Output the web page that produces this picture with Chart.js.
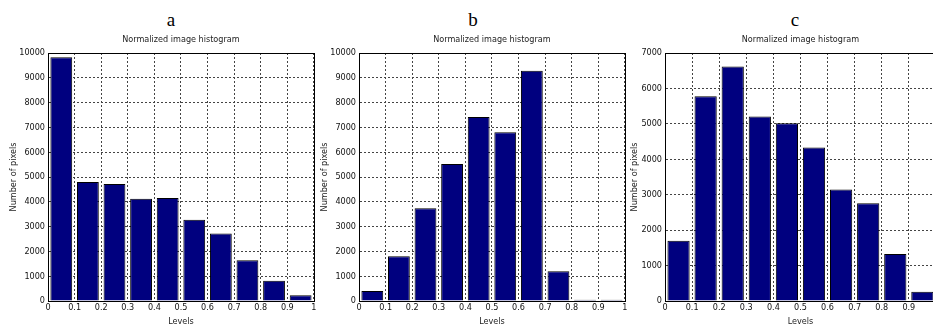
<!DOCTYPE html>
<html>
<head>
<meta charset="utf-8">
<script src="https://cdn.jsdelivr.net/npm/chart.js@4/dist/chart.umd.min.js"></script>
<style>
  html, body { margin: 0; padding: 0; background: #fff; overflow: hidden; }
  body { width: 933px; height: 327px; position: relative; }
  .panel { position: absolute; top: 0; height: 327px; }
  .letter {
    position: absolute; top: 10px; width: 40px; text-align: center;
    font: 19px/20px 'Liberation Serif', 'Times New Roman', serif; color: #000;
  }
</style>
</head>
<body>
<div class="letter" style="left:151px">a</div>
<div class="letter" style="left:453px">b</div>
<div class="letter" style="left:775px">c</div>
<div class="panel" style="left:0;width:318px"><canvas id="chartA"></canvas></div>
<div class="panel" style="left:318px;width:311px"><canvas id="chartB"></canvas></div>
<div class="panel" style="left:629px;width:311px"><canvas id="chartC"></canvas></div>
<script>
// bin centres of the normalized levels
const levels = [0.05, 0.15, 0.25, 0.35, 0.45, 0.55, 0.65, 0.75, 0.85, 0.95];
const pixelsA = [9830, 4800, 4720, 4120, 4150, 3280, 2720, 1640, 820, 230];
const pixelsB = [400, 1800, 3740, 5520, 7420, 6800, 9280, 1200, 50, 50];
const pixelsC = [1700, 5780, 6620, 5210, 5020, 4330, 3150, 2760, 1330, 260];
const yMaxA = 10000, yMaxB = 10000, yMaxC = 7000;

const narrow = "'Liberation Sans Narrow', 'DejaVu Sans Condensed', 'Arial Narrow', Arial, sans-serif";

// matlab style closed box around the axes
const boxPlugin = {
  id: 'box',
  afterDatasetsDraw(chart) {
    const a = chart.chartArea;
    const ctx = chart.ctx;
    ctx.save();
    ctx.strokeStyle = '#000';
    ctx.lineWidth = 1;
    ctx.strokeRect(Math.round(a.left) + 0.5, Math.round(a.top) + 0.5,
      Math.round(a.right - a.left), Math.round(a.bottom - a.top));
    ctx.restore();
  }
};

function makeChart(id, values, yMax, yAxisWidth, yTitlePad) {
  const ctx = document.getElementById(id).getContext('2d');
  return new Chart(ctx, {
    type: 'bar',
    data: {
      datasets: [{
        data: levels.map((x, i) => ({ x: x, y: values[i] })),
        backgroundColor: '#00007f',
        borderColor: '#000',
        borderWidth: 1,
        barPercentage: 0.82,
        categoryPercentage: 1
      }]
    },
    options: {
      responsive: true,
      maintainAspectRatio: false,
      animation: false,
      layout: { padding: { top: 30, right: 3, bottom: 0, left: 0 } },
      plugins: {
        legend: { display: false },
        tooltip: { enabled: false },
        title: {
          display: true,
          text: 'Normalized image histogram',
          fullSize: false,
          color: '#222',
          font: { family: narrow, size: 9, weight: 'normal' },
          padding: { top: 4.6, bottom: 7.6 }
        }
      },
      scales: {
        x: {
          type: 'linear',
          min: 0,
          max: 1,
          offset: false,
          grid: { offset: false, color: '#444', drawTicks: false },
          border: { color: '#000', dash: [2, 2] },
          ticks: {
            stepSize: 0.1,
            padding: 1.5,
            color: '#111',
            maxRotation: 0,
            autoSkip: false,
            font: { family: narrow, size: 9 },
            callback: v => String(Math.round(v * 10) / 10)
          },
          title: {
            display: true,
            text: 'Levels',
            color: '#222',
            padding: { top: 0, bottom: 0 },
            font: { family: narrow, size: 9 }
          },
          afterFit(scale) { scale.height = 26; }
        },
        y: {
          min: 0,
          max: yMax,
          grid: { color: '#444', drawTicks: false },
          border: { color: '#000', dash: [2, 2] },
          ticks: {
            stepSize: 1000,
            padding: 3,
            color: '#111',
            font: { family: narrow, size: 9 },
            callback: v => String(v)
          },
          title: {
            display: true,
            text: 'Number of pixels',
            color: '#222',
            padding: { top: yTitlePad, bottom: 0 },
            font: { family: narrow, size: 9 }
          },
          afterFit(scale) { scale.width = yAxisWidth; }
        }
      }
    },
    plugins: [boxPlugin]
  });
}

makeChart('chartA', pixelsA, yMaxA, 48, 8.6);
makeChart('chartB', pixelsB, yMaxB, 41, 1.6);
makeChart('chartC', pixelsC, yMaxC, 36, 0.6);
</script>
</body>
</html>
